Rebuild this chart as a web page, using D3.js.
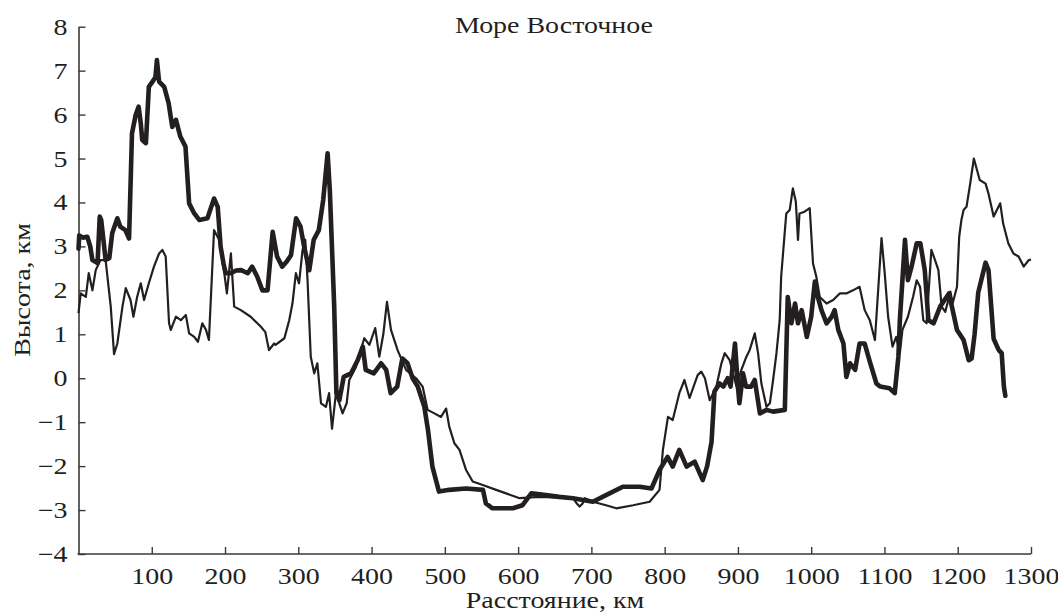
<!DOCTYPE html>
<html>
<head>
<meta charset="utf-8">
<script src="https://cdn.jsdelivr.net/npm/d3@7"></script>
<style>
  html, body { margin: 0; padding: 0; background: #fff; }
  svg { display: block; }
  text { font-family: "Liberation Serif", "DejaVu Serif", serif; fill: #231f20; }
</style>
</head>
<body>
<svg id="chart" width="1058" height="614"></svg>
<script>
// Profile 1 (thick line): distance, km and height, km
const distThick = [0,1,6,12,16,19,26,29,31,34,37,42,46,53,57,64,69,73,78,82,85,87,92,96,101,105,107,110,117,123,128,133,139,146,151,158,165,176,185,190,194,198,201,208,215,222,231,237,244,251,258,265,271,278,284,290,297,303,308,315,321,328,334,340,343,349,352,356,362,372,381,388,392,403,413,420,426,435,442,449,456,463,472,477,483,492,506,529,552,556,565,593,606,618,638,656,675,702,720,743,766,782,793,804,811,820,830,841,852,858,864,868,875,880,886,890,896,900,902,907,911,918,923,930,939,948,964,968,973,978,982,987,994,1000,1005,1009,1014,1021,1028,1032,1037,1044,1048,1053,1060,1066,1073,1080,1089,1094,1107,1114,1119,1121,1128,1132,1137,1144,1149,1155,1160,1167,1176,1188,1192,1199,1208,1215,1219,1223,1228,1238,1242,1249,1256,1260,1263,1265];
const heightThick = [2.95,3.25,3.2,3.22,3.0,2.69,2.62,3.68,3.6,3.15,2.69,2.73,3.3,3.64,3.45,3.37,3.18,5.57,5.99,6.18,5.8,5.42,5.35,6.63,6.75,6.85,7.24,6.75,6.63,6.26,5.72,5.88,5.5,5.27,3.98,3.75,3.6,3.64,4.09,3.9,2.99,2.6,2.39,2.39,2.45,2.46,2.39,2.54,2.31,2.0,2.0,3.33,2.77,2.54,2.65,2.8,3.64,3.45,2.99,2.46,3.15,3.37,4.06,5.12,4.28,1.63,-0.34,-0.5,0.03,0.11,0.41,0.72,0.19,0.11,0.34,0.19,-0.34,-0.19,0.45,0.34,0.0,-0.19,-0.65,-1.18,-2.01,-2.58,-2.54,-2.51,-2.54,-2.85,-2.96,-2.96,-2.89,-2.62,-2.66,-2.7,-2.73,-2.81,-2.66,-2.47,-2.47,-2.51,-2.09,-1.79,-2.01,-1.63,-2.01,-1.9,-2.32,-2.0,-1.45,-0.3,-0.12,-0.19,0.0,-0.19,0.79,-0.19,-0.57,0.11,-0.19,-0.19,-0.04,-0.8,-0.72,-0.76,-0.72,1.85,1.25,1.7,1.25,1.55,0.94,1.4,2.2,1.85,1.55,1.25,1.4,1.55,1.1,0.79,0.03,0.34,0.19,0.79,0.79,0.38,-0.12,-0.19,-0.23,-0.34,0.49,1.32,3.15,2.23,2.54,3.07,3.07,2.46,1.32,1.25,1.63,1.93,1.63,1.1,0.87,0.41,0.45,1.0,1.95,2.63,2.46,0.9,0.64,0.57,-0.19,-0.4];

// Profile 2 (thin line): distance, km and height, km
const distThin = [0,3,10,14,19,23.5,30,37,44,48.5,53,60,64.5,71,75,80,85,89.5,96,103,110,114.5,119,123.6,126,133,139.6,146.5,151,158,163,169,174,178,185,192,199,202.5,208,212.5,221.6,235,249,255,260,267,269,281,287.6,292,296.7,301,305.8,309.5,312.6,317,321.7,326,331,337.7,342,346,351.4,360.4,366,369.6,378.7,390,397,405,410.5,416,421,426.5,435.5,447,460.7,469.7,476.5,485.7,494.8,501.7,506,513,520,529,538,551.7,570,602,629,675,680,684,688,691,702,720,734,757,779.5,793,797.6,804.5,811,820,827,834,845,850,855,861.5,870.6,877.5,882,888.7,898,904.7,911.6,916,923,927.5,932,939,943.6,948,952.6,957,959,966,970.7,975,979,982,984,991,998,1002.5,1007,1011.7,1021,1030,1039,1048,1057,1066,1073,1080,1087,1096,1100,1105,1111,1116,1121,1124.5,1132,1139,1144,1148.6,1153,1157.5,1164,1169,1173.6,1178,1183,1190,1193,1199,1202,1205,1208,1212,1217,1222,1230,1238,1242,1249,1258,1262,1269,1276,1283,1290,1297,1300];
const heightThin = [1.48,1.93,1.85,2.39,2.0,2.46,2.69,2.69,1.63,0.55,0.79,1.63,2.05,1.78,1.4,1.85,2.16,1.78,2.16,2.54,2.84,2.92,2.77,1.25,1.1,1.4,1.32,1.44,1.02,0.94,0.83,1.25,1.1,0.87,3.37,3.15,2.39,1.93,2.84,1.63,1.55,1.4,1.17,1.05,0.64,0.79,0.76,0.91,1.32,1.7,2.39,2.16,2.92,3.15,2.23,0.49,0.11,0.34,-0.57,-0.65,-0.34,-1.15,-0.34,-0.8,-0.57,-0.04,0.26,0.91,0.76,1.14,0.49,1.0,1.74,1.1,0.64,0.19,0.0,-0.19,-0.72,-0.8,-0.88,-0.69,-1.1,-1.48,-1.63,-2.09,-2.35,-2.43,-2.54,-2.73,-2.7,-2.73,-2.85,-2.92,-2.85,-2.73,-2.81,-2.89,-2.96,-2.89,-2.81,-2.54,-1.63,-0.88,-0.95,-0.34,-0.04,-0.45,0.07,0.15,0.0,-0.5,-0.19,0.34,0.57,0.41,-0.19,0.19,0.49,0.64,1.02,0.57,-0.12,-0.65,-0.57,-0.04,0.57,1.32,2.31,3.75,3.83,4.32,4.02,3.15,3.75,3.79,3.87,2.61,2.31,1.85,1.7,1.78,1.93,1.93,2.0,2.08,1.55,1.32,0.87,3.19,2.46,1.4,0.72,0.94,0.57,1.1,1.4,1.85,2.23,2.08,1.32,1.25,2.92,2.69,2.46,1.63,1.51,1.97,1.7,2.08,3.22,3.6,3.83,3.9,4.43,5.0,4.51,4.43,4.2,3.68,3.98,3.52,3.07,2.84,2.77,2.54,2.69,2.7];

const xTicks = [100,200,300,400,500,600,700,800,900,1000,1100,1200,1300];
const yTicks = [-4,-3,-2,-1,0,1,2,3,4,5,6,7,8];

const titleText = "Море Восточное";
const xTitle = "Расстояние, км";
const yTitle = "Высота, км";

const svg = d3.select("#chart");
const inkColor = "#231f20";
const fontSize = "23.5px";
const widen = 1.19;   // the typeface is set slightly wide

const x = d3.scaleLinear().domain([0, 1300]).range([78.5, 1031]);
const y = d3.scaleLinear().domain([-4, 8]).range([554, 26.7]);

// Axes with inward ticks
const fmt = d => (d < 0 ? "\u2212" + Math.abs(d) : String(d));

const xAxis = svg.append("g")
  .attr("transform", `translate(0,${y(-4)})`)
  .call(d3.axisBottom(x).tickValues(xTicks).tickSize(-7).tickSizeOuter(0).tickPadding(13).tickFormat(fmt));

const yAxis = svg.append("g")
  .attr("transform", `translate(${x(0)},0)`)
  .call(d3.axisLeft(y).tickValues(yTicks).tickSize(-7).tickSizeOuter(0).tickPadding(11).tickFormat(fmt));

[xAxis, yAxis].forEach(g => {
  g.attr("font-family", null).attr("font-size", null);
  g.select(".domain").attr("stroke", "#3a3a3a").attr("stroke-width", 1.6);
  g.selectAll(".tick line").attr("stroke", "#3a3a3a").attr("stroke-width", 1.4);
  g.selectAll(".tick text").style("font-size", fontSize).attr("fill", inkColor);
});
// widen tick labels about their anchor
xAxis.selectAll(".tick text").attr("transform", `scale(${widen},1)`);
yAxis.selectAll(".tick text")
  .attr("x", -11 / widen)
  .attr("transform", `scale(${widen},1)`);
// x axis line reaches the y axis
xAxis.select(".domain").attr("d", `M${x(0) - 1},0H${x(1300)}`);

// Profiles
const line = d3.line().x(d => x(d[0])).y(d => y(d[1])).curve(d3.curveLinear);

const thinData = distThin.map((d, i) => [d, heightThin[i]]);
const thickData = distThick.map((d, i) => [d, heightThick[i]]);

svg.append("path")
  .datum(thinData)
  .attr("d", line)
  .attr("fill", "none")
  .attr("stroke", inkColor)
  .attr("stroke-width", 2.2)
  .attr("stroke-linejoin", "round");

svg.append("path")
  .datum(thickData)
  .attr("d", line)
  .attr("fill", "none")
  .attr("stroke", inkColor)
  .attr("stroke-width", 4.6)
  .attr("stroke-linejoin", "round")
  .attr("stroke-linecap", "round");

// Titles
svg.append("text")
  .attr("transform", `translate(554,33) scale(${widen},1)`)
  .attr("text-anchor", "middle")
  .style("font-size", fontSize)
  .text(titleText);

svg.append("text")
  .attr("transform", `translate(555,608) scale(${widen},1)`)
  .attr("text-anchor", "middle")
  .style("font-size", fontSize)
  .text(xTitle);

svg.append("text")
  .attr("transform", `translate(30,290) rotate(-90) scale(${widen},1)`)
  .attr("text-anchor", "middle")
  .style("font-size", fontSize)
  .text(yTitle);
</script>
</body>
</html>
